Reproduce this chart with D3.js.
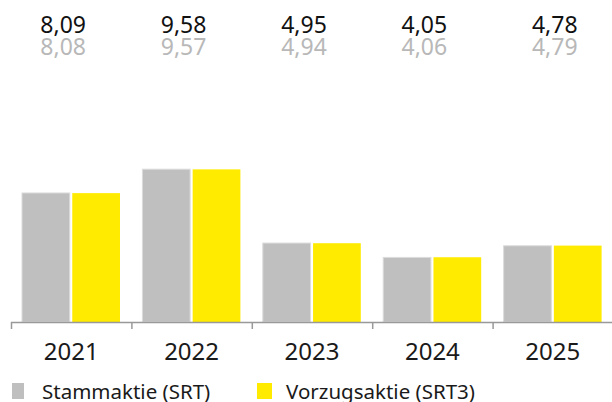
<!DOCTYPE html>
<html>
<head>
<meta charset="utf-8">
<script src="https://cdn.jsdelivr.net/npm/d3@7"></script>
<style>
  body { margin: 0; background: #fff; }
  svg text { font-family: 'Noto Sans', sans-serif; }
</style>
</head>
<body>
<div id="graph"></div>
<script>
const years = ['2021', '2022', '2023', '2024', '2025']
const seriesNames = ['Stammaktie (SRT)', 'Vorzugsaktie (SRT3)']
const srtValues = [8.09, 9.58, 4.95, 4.05, 4.78]
const srt3Values = [8.08, 9.57, 4.94, 4.06, 4.79]
const srtLabels = ['8,09', '9,58', '4,95', '4,05', '4,78']
const srt3Labels = ['8,08', '9,57', '4,94', '4,06', '4,79']

const width = 612,
  height = 402
const baseline = 322

const colors = { srt: '#bfbfbf', srt3: '#ffeb00' }

const svg = d3
  .select('#graph')
  .append('svg')
  .attr('width', width)
  .attr('height', height)

const x = d3.scaleBand().domain(years).range([11, 613]).padding(0)
const x1 = d3
  .scaleBand()
  .domain(['srt', 'srt3'])
  .range([11, 109])
  .paddingInner(0.05)
const y = d3.scaleLinear().domain([0, 10]).range([baseline, baseline - 159.5])

const data = years.map((yr, i) => ({
  year: yr,
  values: [
    { key: 'srt', value: srtValues[i] },
    { key: 'srt3', value: srt3Values[i] },
  ],
}))

// bars
const groups = svg
  .selectAll('g.year')
  .data(data)
  .join('g')
  .attr('class', 'year')
  .attr('transform', (d) => `translate(${x(d.year)},0)`)

groups
  .selectAll('rect')
  .data((d) => d.values)
  .join('rect')
  .attr('x', (d) => x1(d.key))
  .attr('y', (d) => y(d.value))
  .attr('width', x1.bandwidth())
  .attr('height', (d) => y(0) - y(d.value))
  .attr('fill', (d) => colors[d.key])
  .attr('stroke', (d) => (d.key === 'srt' ? '#dcdcdc' : 'none'))
  .attr('stroke-width', 1)

// axis line + ticks at band edges
const axisColor = '#999'
svg
  .append('line')
  .attr('x1', x.range()[0])
  .attr('x2', x.range()[1])
  .attr('y1', baseline + 0.5)
  .attr('y2', baseline + 0.5)
  .attr('stroke', axisColor)
  .attr('stroke-width', 1.5)

const tickPos = years.map((d) => x(d))
svg
  .selectAll('line.tick')
  .data(tickPos)
  .join('line')
  .attr('class', 'tick')
  .attr('x1', (d) => d + 0.5)
  .attr('x2', (d) => d + 0.5)
  .attr('y1', baseline)
  .attr('y2', baseline + 7)
  .attr('stroke', axisColor)
  .attr('stroke-width', 1.5)

// year labels under each band
svg
  .selectAll('text.yearLabel')
  .data(years)
  .join('text')
  .attr('class', 'yearLabel')
  .attr('x', (d) => x(d) + x.bandwidth() / 2)
  .attr('y', 360)
  .attr('text-anchor', 'middle')
  .attr('font-size', 24)
  .attr('fill', '#1a1a1a')
  .text((d) => d)

// value labels at the top (right aligned)
const valueRight = (d, i) => x(d) + 75 + (i === 4 ? 10 : 0)
svg
  .selectAll('text.srtLabel')
  .data(years)
  .join('text')
  .attr('class', 'srtLabel')
  .attr('x', valueRight)
  .attr('y', 33)
  .attr('text-anchor', 'end')
  .attr('font-size', 23)
  .attr('fill', '#111')
  .text((d, i) => srtLabels[i])

svg
  .selectAll('text.srt3Label')
  .data(years)
  .join('text')
  .attr('class', 'srt3Label')
  .attr('x', valueRight)
  .attr('y', 55)
  .attr('text-anchor', 'end')
  .attr('font-size', 23)
  .attr('fill', '#b8b8b8')
  .text((d, i) => srt3Labels[i])

// legend
const legendX = [12, 257]
const legend = svg
  .selectAll('g.legend')
  .data(seriesNames)
  .join('g')
  .attr('class', 'legend')
  .attr('transform', (d, i) => `translate(${legendX[i]},0)`)

legend
  .append('rect')
  .attr('x', 0)
  .attr('y', 383)
  .attr('width', (d, i) => (i === 0 ? 12 : 15))
  .attr('height', 16)
  .attr('fill', (d, i) => (i === 0 ? colors.srt : colors.srt3))

legend
  .append('text')
  .attr('x', (d, i) => (i === 0 ? 30 : 29))
  .attr('y', 399)
  .attr('font-size', 20.5)
  .attr('fill', '#1a1a1a')
  .text((d) => d)
</script>
</body>
</html>
